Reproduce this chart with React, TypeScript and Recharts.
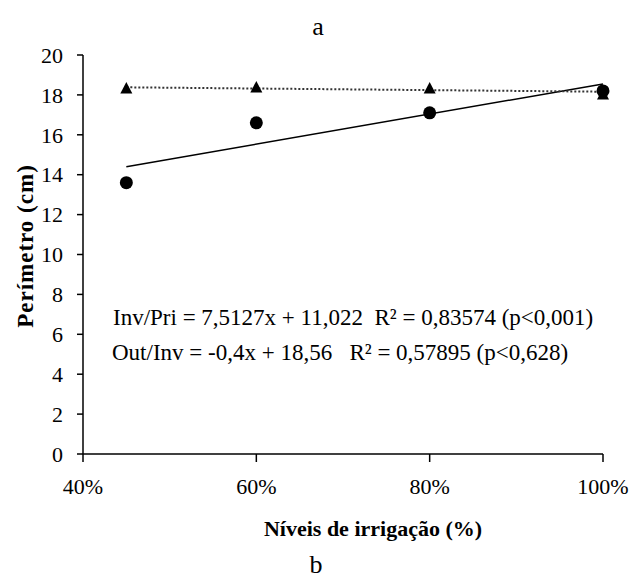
import { ComposedChart, Scatter, Line, XAxis, YAxis } from 'recharts';

// Níveis de irrigação (fração) e perímetro medido (cm)
const niveis = [0.45, 0.6, 0.8, 1.0];
const invPri = [13.6, 16.6, 17.1, 18.2];
const outInv = [18.3, 18.35, 18.3, 18.0];

// extremos das linhas de tendência
const trendX = [0.45, 1.0];
const trendInvPri = [14.4, 18.55];
const trendOutInv = [18.38, 18.16];

const xTicks = [0.4, 0.6, 0.8, 1.0];
const yTicks = [0, 2, 4, 6, 8, 10, 12, 14, 16, 18, 20];

const FONT = 'Liberation Serif, Times New Roman, serif';

const circles = niveis.map((x, i) => ({ x, y: invPri[i] }));
const triangles = niveis.map((x, i) => ({ x, y: outInv[i] }));
const lineA = trendX.map((x, i) => ({ x, y: trendInvPri[i] }));
const lineB = trendX.map((x, i) => ({ x, y: trendOutInv[i] }));

const Circle = (p: any) => <circle cx={p.cx} cy={p.cy} r={6.5} fill="#000" />;
const Triangle = (p: any) => (
  <polygon
    points={`${p.cx},${p.cy - 7} ${p.cx - 6},${p.cy + 4.5} ${p.cx + 6},${p.cy + 4.5}`}
    fill="#000"
  />
);

const XTick = (p: any) => (
  <text x={p.x} y={p.y} dy="0.71em" textAnchor="middle" fontFamily={FONT} fontSize={22} fill="#000">
    {`${Math.round(p.payload.value * 100)}%`}
  </text>
);
const YTick = (p: any) => (
  <text x={p.x} y={p.y} dy="0.35em" textAnchor="end" fontFamily={FONT} fontSize={22} fill="#000">
    {p.payload.value}
  </text>
);

const overlay = (top: number, left: number, size: number, extra: any = {}) => ({
  position: 'absolute' as const,
  top,
  left,
  fontFamily: FONT,
  fontSize: size,
  lineHeight: 1,
  color: '#000',
  whiteSpace: 'nowrap' as const,
  ...extra,
});

export default function App() {
  return (
    <div style={{ position: 'absolute', left: 0, top: 0, width: 631, height: 578, background: '#fff' }}>
      <ComposedChart
        width={631}
        height={578}
        margin={{ top: 55, right: 28, bottom: 94, left: 0 }}
      >
        <XAxis
          type="number"
          dataKey="x"
          domain={[0.4, 1.0]}
          ticks={xTicks}
          tick={XTick}
          tickSize={8}
          tickMargin={16}
          axisLine={{ stroke: '#000', strokeWidth: 1.5 }}
          tickLine={{ stroke: '#000', strokeWidth: 1.5 }}
          height={30}
        />
        <YAxis
          type="number"
          dataKey="y"
          domain={[0, 20]}
          ticks={yTicks}
          tick={YTick}
          tickSize={6}
          tickMargin={14}
          width={83}
          axisLine={{ stroke: '#000', strokeWidth: 1.5 }}
          tickLine={{ stroke: '#000', strokeWidth: 1.5 }}
        />
        <Line
          data={lineA}
          dataKey="y"
          type="linear"
          stroke="#000"
          strokeWidth={1.5}
          dot={false}
          isAnimationActive={false}
        />
        <Line
          data={lineB}
          dataKey="y"
          type="linear"
          stroke="#333"
          strokeWidth={2}
          strokeDasharray="2 2"
          dot={false}
          isAnimationActive={false}
        />
        <Scatter data={circles} dataKey="y" shape={Circle} isAnimationActive={false} />
        <Scatter data={triangles} dataKey="y" shape={Triangle} isAnimationActive={false} />
      </ComposedChart>

      <div style={overlay(14, 318, 26, { transform: 'translateX(-50%)' })}>a</div>
      <div style={overlay(552, 316, 26, { transform: 'translateX(-50%)' })}>b</div>
      <div style={overlay(306, 113, 23)}>Inv/Pri = 7,5127x + 11,022&nbsp;&nbsp;R² = 0,83574 (p&lt;0,001)</div>
      <div style={overlay(341, 112, 23)}>Out/Inv = -0,4x + 18,56&nbsp;&nbsp;&nbsp;R² = 0,57895 (p&lt;0,628)</div>
      <div style={overlay(518, 373, 22, { fontWeight: 'bold', transform: 'translateX(-50%)' })}>
        Níveis de irrigação (%)
      </div>
      <div
        style={overlay(246, 25, 23, {
          fontWeight: 'bold',
          letterSpacing: 1,
          transform: 'translate(-50%, -50%) rotate(-90deg)',
        })}
      >
        Perímetro (cm)
      </div>
    </div>
  );
}
